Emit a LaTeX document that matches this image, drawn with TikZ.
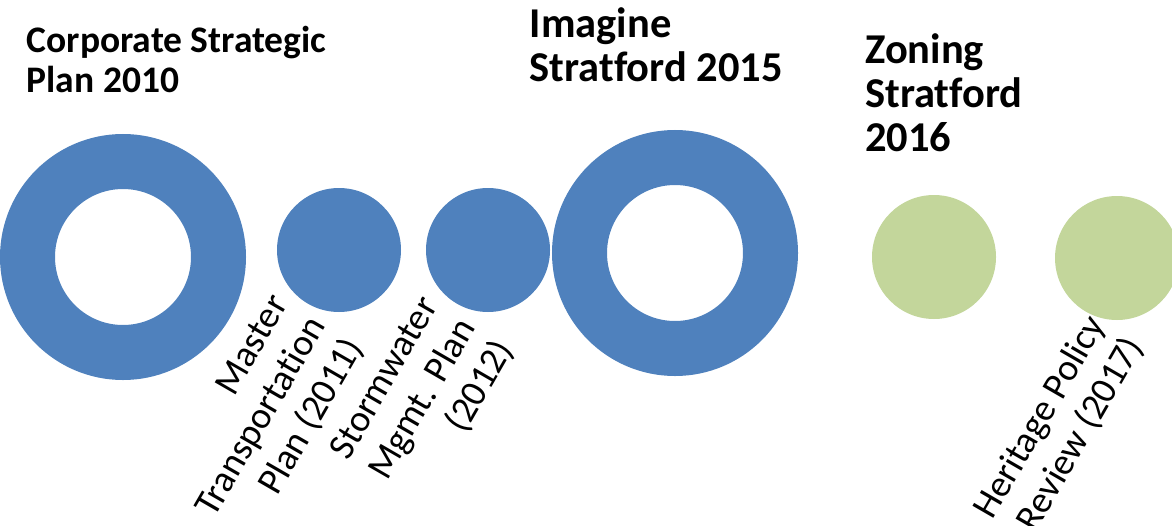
\documentclass[tikz,border=0pt]{standalone}
\usepackage{fontspec}
\setmainfont{Carlito}[Ligatures=NoCommon]
\definecolor{ringblue}{RGB}{79,129,189}
\definecolor{dotgreen}{RGB}{195,214,155}
\begin{document}
\begin{tikzpicture}[x=1pt,y=-1pt,
  headsmall/.style={font=\bfseries\fontsize{37.5}{40}\selectfont, align=left, inner sep=0pt, anchor=base west},
  headbig/.style={font=\bfseries\fontsize{42.5}{44}\selectfont, align=left, inner sep=0pt, anchor=base west},
  lbl/.style={font=\fontsize{37.5}{43.5}\selectfont, align=right, inner sep=0pt, rotate=60, anchor=base east},
  ringnode/.style={circle, inner sep=0pt, minimum size=191pt, draw=ringblue, line width=55pt},
  bluedot/.style={circle, inner sep=0pt, minimum size=124pt, fill=ringblue},
  greendot/.style={circle, inner sep=0pt, minimum size=124pt, fill=dotgreen}
]
\useasboundingbox (0,0) rectangle (1172,525);
\clip (0,0) rectangle (1172,525);
\node[ringnode] (r1) at (123,257) {};
\node[bluedot] (d1) at (339,250) {};
\node[bluedot] (d2) at (488,250) {};
\node[ringnode] (r2) at (675,253) {};
\node[greendot] (g1) at (934,257) {};
\node[greendot] (g2) at (1117,258) {};
\node[headsmall] (h1) at (26.5,92) {Corporate Strategic\\Plan 2010};
\node[headbig] (h2) at (529.5,81.7) {Imagine\\Stratford 2015};
\node[headbig] (h3) at (865,151.7) {Zoning\\Stratford\\2016};
\node[lbl] (l1) at (364,347) {Master\\Transportation\\Plan (2011)};
\node[lbl] (l2) at (514,349) {Stormwater\\Mgmt. Plan\\(2012)};
\node[lbl] (l3) at (1144,346) {Heritage Policy\\Review (2017)};
\end{tikzpicture}
\end{document}
